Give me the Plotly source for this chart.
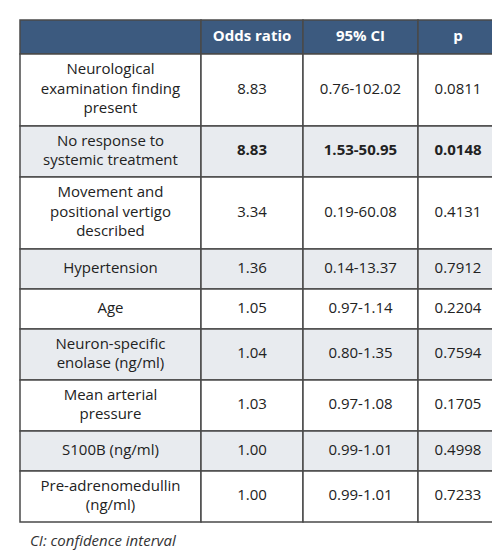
import plotly.graph_objects as go

header = ["", "Odds ratio", "95% CI", "p"]
variables = [
    "Neurological<br>examination finding<br>present",
    "No response to<br>systemic treatment",
    "Movement and<br>positional vertigo<br>described",
    "Hypertension",
    "Age",
    "Neuron-specific<br>enolase (ng/ml)",
    "Mean arterial<br>pressure",
    "S100B (ng/ml)",
    "Pre-adrenomedullin<br>(ng/ml)",
]
odds = ["8.83", "8.83", "3.34", "1.36", "1.05", "1.04", "1.03", "1.00", "1.00"]
ci = ["0.76-102.02", "1.53-50.95", "0.19-60.08", "0.14-13.37", "0.97-1.14",
      "0.80-1.35", "0.97-1.08", "0.99-1.01", "0.99-1.01"]
pvals = ["0.0811", "0.0148", "0.4131", "0.7912", "0.2204", "0.7594", "0.1705",
         "0.4998", "0.7233"]
bold_row = 1

# layout in pixels
col_edges = [12, 193, 295, 410, 490]
top = 12
header_h = 34
line_h = {1: 40, 2: 51, 3: 72}
border = "#4a4a4a"
font = "Open Sans"

columns = [variables, odds, ci, pvals]
row_h = [line_h[v.count("<br>") + 1] for v in variables]
row_top = [top + header_h]
for h in row_h[:-1]:
    row_top.append(row_top[-1] + h)

fig = go.Figure()
shapes = []
for c in range(4):
    x0, x1 = col_edges[c], col_edges[c + 1]
    shapes.append(dict(type="rect", x0=x0, x1=x1, y0=top, y1=top + header_h,
                       fillcolor="#3c5a7f", line=dict(color=border, width=1.5), layer="below"))
    for r in range(len(variables)):
        shapes.append(dict(type="rect", x0=x0, x1=x1, y0=row_top[r], y1=row_top[r] + row_h[r],
                           fillcolor="#ffffff" if r % 2 == 0 else "#e8ebef",
                           line=dict(color=border, width=1.5), layer="below"))

centers_x = [(col_edges[c] + col_edges[c + 1]) / 2 for c in range(4)]
fig.add_trace(go.Scatter(
    x=centers_x, y=[top + header_h / 2] * 4, mode="text",
    text=["<b>%s</b>" % h for h in header],
    textfont=dict(color="white", size=15, family=font), hoverinfo="skip"))
for c in range(4):
    texts = ["<b>%s</b>" % t if (r == bold_row and c > 0) else t
             for r, t in enumerate(columns[c])]
    fig.add_trace(go.Scatter(
        x=[centers_x[c]] * len(texts),
        y=[row_top[r] + row_h[r] / 2 for r in range(len(texts))],
        mode="text", text=texts, textposition="middle center",
        textfont=dict(color="#222222", size=15, family=font), hoverinfo="skip"))

fig.add_annotation(text="<i>CI: confidence interval</i>", x=20, y=532,
                   xanchor="left", yanchor="middle", showarrow=False,
                   font=dict(size=15, family=font, color="#333333"))
fig.update_layout(width=500, height=552, margin=dict(l=0, r=0, t=0, b=0),
                  paper_bgcolor="white", plot_bgcolor="white", showlegend=False,
                  shapes=shapes,
                  xaxis=dict(range=[0, 500], visible=False, fixedrange=True),
                  yaxis=dict(range=[552, 0], visible=False, fixedrange=True))
fig.write_html("out.html")
